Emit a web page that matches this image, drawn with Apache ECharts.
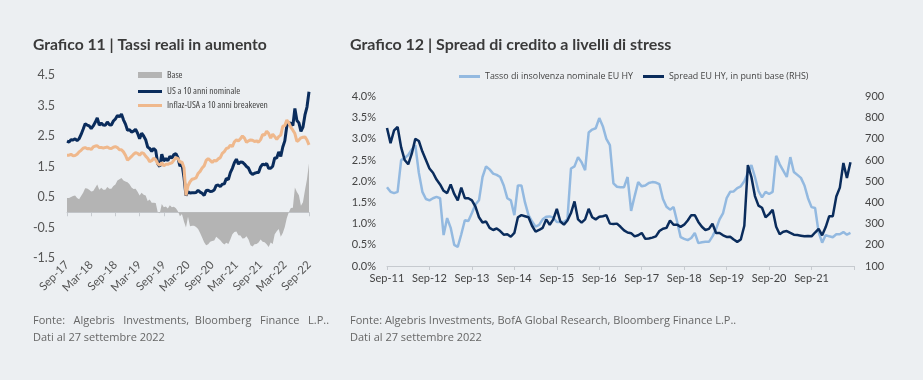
<!DOCTYPE html>
<html><head><meta charset="utf-8">
<script src="https://cdn.jsdelivr.net/npm/echarts@6/dist/echarts.min.js"></script>
<style>html,body{margin:0;padding:0;background:#ECEFF2;}#c{width:923px;height:380px;}</style>
</head><body><div id="c"></div>
<script>
// ---------- DATA ----------
const monthNames = ['Jan','Feb','Mar','Apr','May','Jun','Jul','Aug','Sep','Oct','Nov','Dec'];
// Left chart: half-monthly points, Sep-17 (end) ... Sep-22 (end)
const leftTickLabels = ['Sep-17','Mar-18','Sep-18','Mar-19','Sep-19','Mar-20','Sep-20','Mar-21','Sep-21','Mar-22','Sep-22'];
const leftYTicks = [-1.5, -0.5, 0.5, 1.5, 2.5, 3.5, 4.5];
const usNominal = [
 2.33,2.30,2.38,2.37,2.41,2.35,2.41,
 2.55,2.72,2.90,2.86,2.83,2.74,2.83,2.95,3.09,2.86,2.92,2.86,2.85,2.96,2.87,2.86,2.99,3.06,3.17,3.13,3.22,3.03,2.89,2.69,
 2.71,2.63,2.66,2.72,2.59,2.41,2.59,2.50,2.38,2.14,2.09,2.00,2.09,2.02,1.59,1.50,1.90,1.68,1.76,1.69,1.83,1.78,1.89,1.92,
 1.79,1.51,1.59,1.15,0.55,0.67,0.63,0.64,0.64,0.65,0.72,0.66,0.62,0.55,0.71,0.72,0.68,0.69,0.73,0.88,0.89,0.84,0.92,0.93,
 1.11,1.07,1.30,1.44,1.62,1.74,1.58,1.65,1.64,1.58,1.50,1.45,1.30,1.24,1.28,1.30,1.30,1.49,1.58,1.55,1.60,1.44,1.44,1.51,
 1.78,1.78,1.98,1.83,2.14,2.34,2.83,2.93,2.92,2.84,3.40,3.01,2.93,2.65,2.79,3.19,3.45,3.95];
const breakeven = [
 1.87,1.87,1.90,1.85,1.86,1.90,1.98,
 2.03,2.10,2.12,2.08,2.09,2.06,2.14,2.17,2.18,2.12,2.12,2.11,2.12,2.14,2.10,2.09,2.13,2.15,2.12,2.05,2.05,1.98,1.87,1.71,
 1.77,1.83,1.90,1.95,1.93,1.87,1.95,1.93,1.84,1.77,1.66,1.69,1.77,1.72,1.59,1.54,1.63,1.52,1.57,1.57,1.60,1.62,1.71,1.79,
 1.76,1.64,1.65,1.46,0.55,0.87,1.00,1.08,1.10,1.13,1.27,1.34,1.45,1.52,1.70,1.76,1.70,1.63,1.70,1.68,1.75,1.79,1.93,1.99,
 2.09,2.11,2.20,2.15,2.31,2.37,2.34,2.41,2.50,2.43,2.29,2.34,2.37,2.36,2.32,2.34,2.30,2.38,2.55,2.53,2.66,2.58,2.43,2.56,
 2.48,2.39,2.48,2.53,2.82,2.84,3.02,2.93,2.78,2.69,2.58,2.32,2.37,2.44,2.46,2.47,2.37,2.21];
const base = [
 0.47,0.47,0.50,0.53,0.55,0.47,0.43,
 0.53,0.64,0.79,0.78,0.74,0.68,0.70,0.80,0.91,0.74,0.80,0.74,0.74,0.83,0.77,0.77,0.86,0.91,1.04,1.08,1.12,1.04,1.01,0.98,
 0.92,0.81,0.76,0.77,0.67,0.55,0.64,0.57,0.55,0.37,0.42,0.31,0.31,0.30,0.00,-0.03,0.27,0.16,0.19,0.12,0.23,0.16,0.18,0.13,
 0.03,-0.13,-0.06,-0.30,-0.50,-0.15,-0.46,-0.44,-0.44,-0.48,-0.55,-0.68,-0.83,-0.98,-1.08,-1.05,-0.97,-0.94,-0.93,-0.80,-0.86,-0.92,-1.00,-1.06,
 -1.00,-1.04,-0.89,-0.72,-0.65,-0.63,-0.75,-0.76,-0.86,-0.85,-0.79,-0.89,-1.08,-1.12,-1.05,-1.04,-0.99,-0.89,-0.97,-0.98,-1.05,-1.14,-0.99,-1.04,
 -0.72,-0.62,-0.55,-0.80,-0.68,-0.48,-0.19,0.00,0.14,0.15,0.81,0.66,0.56,0.21,0.33,0.72,1.08,1.60];

// Right chart: monthly, Sep-11 ... Aug-22 (axis runs to Sep-22)
const rightYLeftTicks = [0,0.5,1,1.5,2,2.5,3,3.5,4];
const rightYRightTicks = [100,200,300,400,500,600,700,800,900];
const defaultRate = [
 1.86,1.75,1.72,1.75,2.5,2.55,2.62,2.75,2.85,2.2,1.75,1.58,
 1.55,1.6,1.63,1.6,0.73,1.13,0.9,0.5,0.45,0.75,1.08,1.06,
 1.25,1.45,1.55,2.1,2.35,2.28,2.18,2.15,2.1,1.9,1.6,1.55,
 1.2,1.9,1.9,1.5,1.2,1.05,0.93,0.97,1.1,1.16,1.17,1.14,
 1.04,1.04,1.04,1.1,2.3,2.35,2.57,2.45,2.26,3.15,3.22,3.25,
 3.49,3.3,3.0,2.85,1.95,1.87,1.86,1.86,2.1,1.3,1.65,1.98,
 1.88,1.9,1.96,1.98,1.97,1.93,1.58,1.4,1.33,1.39,1.05,0.68,
 0.64,0.61,0.66,0.78,0.54,0.56,0.57,0.57,0.7,0.87,1.1,1.25,
 1.6,1.75,1.76,1.84,1.88,2.0,2.2,2.38,2.1,1.77,1.62,1.75,
 1.7,1.75,2.6,2.4,2.25,2.1,2.57,2.22,2.15,2.08,1.9,1.6,
 1.39,1.37,0.8,0.55,0.73,0.7,0.68,0.75,0.75,0.8,0.74,0.78];
const spreadBps = [
 751,680,740,756,660,600,580,630,700,690,640,600,
 560,540,508,485,455,444,485,440,410,470,420,420,
 410,380,330,305,310,280,270,277,265,248,250,238,
 256,330,340,335,330,290,262,270,280,320,295,320,
 370,310,295,315,350,405,320,305,320,370,330,320,
 332,335,340,300,298,300,285,268,258,255,240,245,
 256,228,230,234,240,265,276,280,315,295,295,285,
 295,315,340,340,308,285,270,275,300,256,256,245,
 237,238,225,214,225,290,576,520,430,385,375,330,
 345,365,285,250,262,265,256,248,246,243,240,242,
 240,258,275,245,284,335,335,428,470,586,515,590];

const nameBase = 'Base';
const nameNominal = 'US a 10 anni nominale';
const nameBE = 'Inflaz-USA a 10 anni breakeven';
const nameDefault = 'Tasso di insolvenza nominale EU HY';
const nameSpread = 'Spread EU HY, in punti base (RHS)';

// ---------- categories ----------
function ml(y, m) { return monthNames[m] + '-' + String(y).slice(2); }
const leftCats = ['Sep-17'];
for (let k = 1; k <= 60; k++) {
  const y = 2017 + Math.floor((8 + k) / 12), m = (8 + k) % 12;
  leftCats.push('mid ' + ml(y, m)); leftCats.push(ml(y, m));
}
const rightCats = [];
for (let k = 0; k <= 132; k++) {
  const y = 2011 + Math.floor((8 + k) / 12), m = (8 + k) % 12;
  rightCats.push(ml(y, m));
}

// ---------- styles ----------
const BG = '#ECEFF2';
const NAVY = '#0A2C5C', TAN = '#EFB88C', GREY = '#B4B4B4', LBLUE = '#93B9E0';
const AXIS = '#C6CACF';
const OPEN = "'Open Sans'";
const SANS = "Lato,'Noto Sans',sans-serif";
const FOOT = "11px 'Open Sans'";

const chart = echarts.init(document.getElementById('c'), null, {renderer: 'canvas'});
chart.setOption({
  backgroundColor: BG,
  animation: false,
  graphic: [
    {type:'text', left:33, top:37, style:{text:'Grafico 11 | Tassi reali in aumento', font:"bold 15.7px " + SANS, fill:'#3A3A3A'}},
    {type:'text', left:350, top:37, style:{text:'Grafico 12 | Spread di credito a livelli di stress', font:"bold 16px " + SANS, fill:'#3A3A3A'}},
    {type:'text', left:33, top:315, style:{text:'Fonte:   Algebris   Investments,  Bloomberg   Finance   L.P..', font:FOOT, fill:'#666'}},
    {type:'text', left:33, top:332, style:{text:'Dati al 27 settembre 2022', font:FOOT, fill:'#666'}},
    {type:'text', left:350, top:315, style:{text:'Fonte: Algebris Investments, BofA Global Research, Bloomberg Finance L.P..', font:FOOT, fill:'#666'}},
    {type:'text', left:350, top:332, style:{text:'Dati al 27 settembre 2022', font:FOOT, fill:'#666'}}
  ],
  legend: [
    {data:[{name:nameBase, icon:'rect'}], left:133, top:65, itemWidth:24, itemHeight:6, selectedMode:false,
     textStyle:{fontFamily:OPEN, fontWeight:'condensed', fontSize:9.5, color:'#444'}},
    {data:[{name:nameNominal, icon:'rect'},{name:nameBE, icon:'rect'}], orient:'vertical', left:133, top:81, itemWidth:24, itemHeight:3, itemGap:3, selectedMode:false,
     textStyle:{fontFamily:OPEN, fontWeight:'condensed', fontSize:9.5, color:'#444', lineHeight:11}},
    {data:[{name:nameDefault, icon:'rect'}], left:454, top:67, itemWidth:21, itemHeight:3, selectedMode:false,
     textStyle:{fontFamily:OPEN, fontSize:8.9, color:'#444'}},
    {data:[{name:nameSpread, icon:'rect'}], left:638, top:67, itemWidth:21, itemHeight:3, selectedMode:false,
     textStyle:{fontFamily:OPEN, fontSize:8.9, color:'#444'}}
  ],
  grid: [
    {left:67, top:75, width:242, height:183},
    {left:387, top:96.5, width:467, height:169.5}
  ],
  xAxis: [
    {gridIndex:0, type:'category', data:leftCats, boundaryGap:false,
     axisLine:{onZero:true, lineStyle:{color:AXIS, width:1}},
     axisTick:{interval:(i)=>i%12===0, length:4, lineStyle:{color:AXIS}},
     axisLabel:{interval:(i)=>i%12===0, rotate:45, margin:5, fontFamily:SANS, fontSize:11.5, color:'#555'},
     splitLine:{show:false}},
    {gridIndex:1, type:'category', data:rightCats, boundaryGap:false,
     axisLine:{lineStyle:{color:AXIS, width:1}},
     axisTick:{interval:(i)=>i%12===0, length:4, lineStyle:{color:AXIS}},
     axisLabel:{interval:(i)=>i%12===0 && i<132, margin:7, fontFamily:SANS, fontSize:11, color:'#444'},
     splitLine:{show:false}}
  ],
  yAxis: [
    {gridIndex:0, type:'value', min:leftYTicks[0], max:leftYTicks[leftYTicks.length-1], interval:1,
     axisLine:{show:false}, axisTick:{show:false}, splitLine:{show:false},
     axisLabel:{margin:12, fontFamily:SANS, fontSize:12.5, color:'#555', formatter:(v)=>(Math.round(v*10)/10).toFixed(1)}},
    {gridIndex:1, type:'value', min:rightYLeftTicks[0], max:rightYLeftTicks[rightYLeftTicks.length-1], interval:0.5,
     axisLine:{show:false}, axisTick:{show:false}, splitLine:{show:false},
     axisLabel:{margin:11, fontFamily:SANS, fontSize:11, color:'#444', formatter:(v)=>v.toFixed(1)+'%'}},
    {gridIndex:1, type:'value', position:'right', min:rightYRightTicks[0], max:rightYRightTicks[rightYRightTicks.length-1], interval:100,
     axisLine:{show:false}, axisTick:{show:false}, splitLine:{show:false},
     axisLabel:{margin:11, fontFamily:SANS, fontSize:11, color:'#444'}}
  ],
  series: [
    {name:nameBase, type:'line', xAxisIndex:0, yAxisIndex:0, data:base, symbol:'none',
     lineStyle:{width:0}, itemStyle:{color:GREY}, areaStyle:{color:GREY, opacity:1}},
    {name:nameNominal, type:'line', xAxisIndex:0, yAxisIndex:0, data:usNominal, symbol:'none',
     lineStyle:{width:3, color:NAVY}, itemStyle:{color:NAVY}},
    {name:nameBE, type:'line', xAxisIndex:0, yAxisIndex:0, data:breakeven, symbol:'none',
     lineStyle:{width:3, color:TAN}, itemStyle:{color:TAN}},
    {name:nameDefault, type:'line', xAxisIndex:1, yAxisIndex:1, data:defaultRate, symbol:'none',
     lineStyle:{width:2.5, color:LBLUE}, itemStyle:{color:LBLUE}},
    {name:nameSpread, type:'line', xAxisIndex:1, yAxisIndex:2, data:spreadBps, symbol:'none',
     lineStyle:{width:2.5, color:NAVY}, itemStyle:{color:NAVY}}
  ]
});
</script>
</body></html>
